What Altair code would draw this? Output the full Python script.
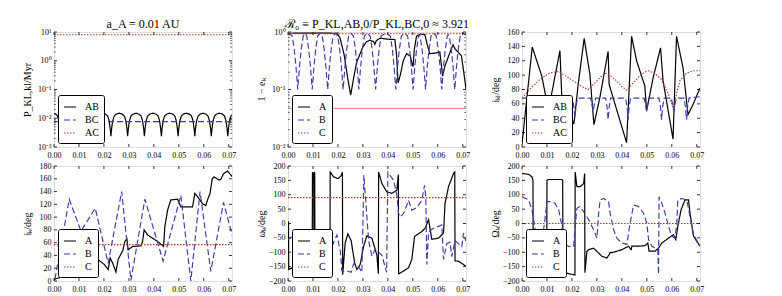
import altair as alt
import pandas as pd

FONT = "Liberation Serif"
W, H = 178, 115
XDOM = [0, 0.0713]
T_TICKS = [0.00, 0.01, 0.02, 0.03, 0.04, 0.05, 0.06, 0.07]
BLACK, BLUE, RED = "#000000", "#3a3aaa", "#b03a2e"

# ---------------- panel 1 : P_KL,kl / Myr (log) ----------------
P1_LABELS = ["AB", "BC", "AC"]
P1_AB = [(0.0000, 0.0145),
         (0.0007, 0.014), (0.0014, 0.012), (0.0020, 0.008), (0.0024, 0.0045), (0.0027, 0.0024), (0.0030, 0.0045), (0.0034, 0.008), (0.0040, 0.012), (0.0049, 0.014), (0.0060, 0.015),
         (0.0072, 0.014), (0.0081, 0.012), (0.0087, 0.008), (0.0091, 0.0045), (0.0094, 0.0024), (0.0097, 0.0045), (0.0101, 0.008), (0.0107, 0.012), (0.0116, 0.014), (0.0127, 0.015),
         (0.0139, 0.014), (0.0148, 0.012), (0.0154, 0.008), (0.0158, 0.0045), (0.0161, 0.0024), (0.0164, 0.0045), (0.0168, 0.008), (0.0174, 0.012), (0.0183, 0.014), (0.0194, 0.015),
         (0.0206, 0.014), (0.0215, 0.012), (0.0221, 0.008), (0.0225, 0.0045), (0.0228, 0.0024), (0.0231, 0.0045), (0.0235, 0.008), (0.0241, 0.012), (0.0250, 0.014), (0.0261, 0.015),
         (0.0273, 0.014), (0.0282, 0.012), (0.0288, 0.008), (0.0292, 0.0045), (0.0295, 0.0024), (0.0298, 0.0045), (0.0302, 0.008), (0.0308, 0.012), (0.0317, 0.014), (0.0328, 0.015),
         (0.0340, 0.014), (0.0349, 0.012), (0.0355, 0.008), (0.0359, 0.0045), (0.0362, 0.0024), (0.0365, 0.0045), (0.0369, 0.008), (0.0375, 0.012), (0.0384, 0.014), (0.0396, 0.015),
         (0.0408, 0.014), (0.0417, 0.012), (0.0423, 0.008), (0.0427, 0.0045), (0.0430, 0.0024), (0.0433, 0.0045), (0.0437, 0.008), (0.0443, 0.012), (0.0452, 0.014), (0.0463, 0.015),
         (0.0475, 0.014), (0.0484, 0.012), (0.0490, 0.008), (0.0494, 0.0045), (0.0497, 0.0024), (0.0500, 0.0045), (0.0504, 0.008), (0.0510, 0.012), (0.0519, 0.014), (0.0530, 0.015),
         (0.0542, 0.014), (0.0551, 0.012), (0.0557, 0.008), (0.0561, 0.0045), (0.0564, 0.0024), (0.0567, 0.0045), (0.0571, 0.008), (0.0577, 0.012), (0.0586, 0.014), (0.0597, 0.015),
         (0.0608, 0.014), (0.0617, 0.012), (0.0623, 0.008), (0.0627, 0.0045), (0.0630, 0.0024), (0.0633, 0.0045), (0.0637, 0.008), (0.0643, 0.012), (0.0652, 0.014), (0.0663, 0.015),
         (0.0674, 0.014), (0.0683, 0.012), (0.0689, 0.008), (0.0693, 0.0045), (0.0696, 0.0024), (0.0699, 0.0045), (0.0703, 0.008), (0.0709, 0.012), (0.0715, 0.0135)]
P1_BC = [(0.0000, 0.0076), (0.0713, 0.0076)]
P1_AC = [(0.0000, 8.0), (0.0713, 8.0)]

# ---------------- panel 2 : 1 - e_k (log) ----------------
P2_LABELS = ["A", "B", "C"]
P2_A = [(0.0000, 0.95), (0.0100, 0.96), (0.0195, 0.95), (0.0208, 0.80), (0.0225, 0.40), (0.0240, 0.15), (0.0251, 0.08),
        (0.0262, 0.15), (0.0275, 0.30), (0.0288, 0.41), (0.0300, 0.55), (0.0315, 0.68), (0.0328, 0.72), (0.0343, 0.68),
        (0.0348, 0.61), (0.0353, 0.70), (0.0368, 0.78), (0.0400, 0.75), (0.0428, 0.74), (0.0435, 0.40), (0.0441, 0.13),
        (0.0450, 0.18), (0.0462, 0.32), (0.0475, 0.42), (0.0490, 0.38), (0.0497, 0.28), (0.0501, 0.25), (0.0506, 0.50),
        (0.0515, 0.85), (0.0530, 0.92), (0.0548, 0.90), (0.0558, 0.60), (0.0568, 0.42), (0.0590, 0.43), (0.0608, 0.45),
        (0.0613, 0.30), (0.0619, 0.17), (0.0628, 0.25), (0.0645, 0.40), (0.0661, 0.60), (0.0670, 0.50), (0.0681, 0.45),
        (0.0695, 0.38), (0.0708, 0.15), (0.0713, 0.10)]
P2_B = [(0.0000, 0.95), (0.0017, 0.85), (0.0025, 0.5), (0.0032, 0.25), (0.0039, 0.1), (0.0046, 0.25), (0.0053, 0.5), (0.0061, 0.85), (0.0068, 0.95),
        (0.0075, 0.85), (0.0083, 0.5), (0.0090, 0.25), (0.0097, 0.1), (0.0104, 0.25), (0.0111, 0.5), (0.0119, 0.85), (0.0128, 0.95),
        (0.0137, 0.85), (0.0145, 0.5), (0.0152, 0.25), (0.0159, 0.1), (0.0166, 0.25), (0.0173, 0.5), (0.0181, 0.85), (0.0190, 0.95),
        (0.0199, 0.85), (0.0207, 0.5), (0.0214, 0.25), (0.0221, 0.1), (0.0228, 0.25), (0.0235, 0.5), (0.0243, 0.85), (0.0252, 0.95),
        (0.0262, 0.85), (0.0270, 0.5), (0.0277, 0.25), (0.0284, 0.1), (0.0291, 0.25), (0.0298, 0.5), (0.0306, 0.85), (0.0317, 0.95),
        (0.0329, 0.85), (0.0337, 0.5), (0.0344, 0.25), (0.0351, 0.1), (0.0358, 0.25), (0.0365, 0.5), (0.0373, 0.85), (0.0391, 0.95),
        (0.0410, 0.85), (0.0418, 0.5), (0.0425, 0.25), (0.0432, 0.1), (0.0439, 0.25), (0.0446, 0.5), (0.0454, 0.85), (0.0466, 0.95),
        (0.0479, 0.85), (0.0487, 0.5), (0.0494, 0.25), (0.0501, 0.1), (0.0508, 0.25), (0.0515, 0.5), (0.0523, 0.85), (0.0526, 0.9),
        (0.0529, 0.85), (0.0537, 0.5), (0.0544, 0.25), (0.0551, 0.1), (0.0558, 0.25), (0.0565, 0.5), (0.0573, 0.85), (0.0584, 0.95),
        (0.0594, 0.85), (0.0602, 0.5), (0.0609, 0.25), (0.0616, 0.1), (0.0623, 0.25), (0.0630, 0.5), (0.0638, 0.85), (0.0642, 0.9),
        (0.0646, 0.85), (0.0654, 0.5), (0.0661, 0.25), (0.0668, 0.1), (0.0675, 0.25), (0.0682, 0.5), (0.0690, 0.85), (0.0700, 0.95), (0.0713, 0.9)]
P2_C = [(0.0000, 0.93), (0.0713, 0.93)]
P2_REF = [0.047]

# ---------------- panel 3 : i_kl / deg ----------------
P3_AB = [(0.0000, 4), (0.0041, 139), (0.0079, 99), (0.0099, 64), (0.0112, 62), (0.0152, 134), (0.0159, 73),
         (0.0208, 32), (0.0225, 87), (0.0249, 151), (0.0272, 101), (0.0288, 31), (0.0312, 69), (0.0345, 133),
         (0.0349, 87), (0.0419, 6), (0.0439, 154), (0.0459, 120), (0.0492, 85), (0.0499, 50), (0.0525, 96),
         (0.0555, 138), (0.0565, 92), (0.0605, 11), (0.0619, 154), (0.0645, 110), (0.0665, 45), (0.0685, 59), (0.0713, 82)]
P3_BC = [(0.0000, 68), (0.0020, 68), (0.0026, 55), (0.0030, 42), (0.0034, 55), (0.0040, 68),
         (0.0080, 68), (0.0086, 55), (0.0090, 42), (0.0094, 55), (0.0100, 68),
         (0.0140, 68), (0.0146, 55), (0.0150, 42), (0.0154, 55), (0.0160, 68),
         (0.0202, 68), (0.0208, 55), (0.0212, 41), (0.0216, 55), (0.0222, 68),
         (0.0275, 68), (0.0281, 58), (0.0285, 50), (0.0289, 58), (0.0295, 68),
         (0.0335, 68), (0.0341, 55), (0.0345, 38), (0.0349, 55), (0.0355, 68),
         (0.0415, 68), (0.0421, 55), (0.0425, 38), (0.0429, 55), (0.0435, 68),
         (0.0489, 68), (0.0495, 58), (0.0499, 50), (0.0503, 58), (0.0509, 68),
         (0.0549, 68), (0.0555, 55), (0.0559, 38), (0.0563, 55), (0.0569, 68),
         (0.0598, 68), (0.0604, 58), (0.0608, 50), (0.0612, 58), (0.0618, 68),
         (0.0649, 68), (0.0655, 55), (0.0659, 38), (0.0663, 55), (0.0669, 68), (0.0713, 70)]
P3_AC = [(0.0000, 68), (0.0030, 80), (0.0072, 94), (0.0110, 103), (0.0145, 105), (0.0175, 99), (0.0205, 92),
         (0.0240, 84), (0.0265, 80), (0.0300, 92), (0.0332, 103), (0.0355, 99), (0.0379, 92), (0.0400, 84),
         (0.0419, 79), (0.0440, 87), (0.0459, 94), (0.0480, 102), (0.0505, 106), (0.0530, 103), (0.0559, 94),
         (0.0585, 75), (0.0605, 54), (0.0620, 75), (0.0632, 92), (0.0660, 103), (0.0685, 106), (0.0713, 106)]

# ---------------- panel 4 : i_k / deg ----------------
P4_A = [(0.0000, 2.6), (0.0021, 5), (0.0050, 15), (0.0090, 25), (0.0130, 30), (0.0175, 34), (0.0201, 26), (0.0217, 18),
        (0.0225, 36), (0.0235, 28), (0.0248, 14), (0.0257, 34), (0.0275, 47), (0.0284, 62), (0.0292, 66), (0.0297, 49),
        (0.0315, 54), (0.0348, 55), (0.0355, 62), (0.0361, 80), (0.0375, 72), (0.0415, 62), (0.0439, 54), (0.0444, 85),
        (0.0455, 111), (0.0468, 127), (0.0495, 128), (0.0508, 116), (0.0555, 116), (0.0564, 137), (0.0575, 132),
        (0.0595, 121), (0.0608, 118), (0.0615, 127), (0.0625, 137), (0.0634, 160), (0.0641, 163), (0.0661, 158),
        (0.0668, 159), (0.0679, 168), (0.0695, 172), (0.0715, 163)]
P4_B = [(0.0004, 3), (0.0061, 128), (0.0108, 78), (0.0165, 114), (0.0217, 28), (0.0271, 140), (0.0308, 1),
        (0.0364, 128), (0.0437, 31), (0.0508, 134), (0.0548, 0), (0.0585, 140), (0.0628, 15), (0.0679, 123), (0.0715, 70)]
P4_C = [(0.0000, 57), (0.0713, 57)]

# ---------------- panel 5 : omega_k / deg ----------------
P5_A = [(0.0000, 8), (0.0002, 5), (0.0003, -160), (0.0015, -155), (0.0029, -150), (0.0040, -140), (0.0070, -120),
        (0.0097, -120), (0.0098, 178), (0.0103, 170), (0.0104, -179), (0.0105, 179), (0.0107, 175), (0.0108, -178),
        (0.0120, -150), (0.0150, -165), (0.0168, -178), (0.0169, 179), (0.0183, 162), (0.0200, 156), (0.0212, 165),
        (0.0218, 178), (0.0219, -178), (0.0229, -68), (0.0240, -36), (0.0253, -60), (0.0267, -137), (0.0276, -160),
        (0.0289, -143), (0.0303, -79), (0.0316, -43), (0.0336, -51), (0.0356, -110), (0.0362, -175), (0.0363, 179),
        (0.0376, 139), (0.0396, 110), (0.0416, 105), (0.0436, 116), (0.0442, 170), (0.0443, -175), (0.0456, -169),
        (0.0483, -154), (0.0496, -125), (0.0507, -45), (0.0536, -28), (0.0549, -16), (0.0563, 13), (0.0576, -55),
        (0.0603, -51), (0.0623, -33), (0.0629, 70), (0.0643, 128), (0.0663, 174), (0.0668, 179), (0.0669, -130),
        (0.0683, -131), (0.0712, -148)]
P5_B = [(0.0000, -55), (0.0030, -40), (0.0060, -45), (0.0096, -22), (0.0110, -80), (0.0130, -110), (0.0150, -114),
        (0.0169, -100), (0.0183, -65), (0.0196, -40), (0.0210, -100), (0.0216, -165), (0.0236, -165), (0.0253, -170),
        (0.0263, -140), (0.0283, -150), (0.0296, -170), (0.0304, 168), (0.0313, 60), (0.0323, -60), (0.0336, -114),
        (0.0349, -90), (0.0376, -110), (0.0395, -170), (0.0400, 178), (0.0423, 150), (0.0436, 100), (0.0443, 35),
        (0.0449, 23), (0.0463, 35), (0.0476, 64), (0.0483, 81), (0.0496, 46), (0.0509, 52), (0.0523, 64), (0.0536, 81),
        (0.0547, 133), (0.0552, 90), (0.0556, -143), (0.0563, -30), (0.0576, -20), (0.0589, -14), (0.0603, -10),
        (0.0616, -5), (0.0623, -125), (0.0636, -70), (0.0649, -65), (0.0656, -115), (0.0669, -60), (0.0683, -70),
        (0.0696, -80), (0.0703, -33), (0.0712, -60)]
P5_C = [(0.0000, 90), (0.0713, 90)]

# ---------------- panel 6 : Omega_k / deg ----------------
P6_A = [(0.0000, 174), (0.0027, 171), (0.0040, 162), (0.0044, 150), (0.0045, -171), (0.0070, -175), (0.0099, -178),
        (0.0100, 150), (0.0105, 153), (0.0160, 153), (0.0163, 150), (0.0164, -170), (0.0190, -175), (0.0212, -179),
        (0.0213, 179), (0.0220, 128), (0.0233, 128), (0.0247, 139), (0.0251, 174), (0.0252, -171), (0.0260, -97),
        (0.0267, -91), (0.0287, -86), (0.0300, -97), (0.0320, -114), (0.0340, -120), (0.0349, -108), (0.0353, -102),
        (0.0367, -100), (0.0400, -91), (0.0427, -79), (0.0437, -91), (0.0440, -79), (0.0467, -79), (0.0493, -77),
        (0.0504, -68), (0.0509, -96), (0.0533, -96), (0.0547, -85), (0.0560, -68), (0.0587, -51), (0.0607, -39),
        (0.0616, -56), (0.0624, -10), (0.0637, 47), (0.0653, 82), (0.0667, 82), (0.0673, 36), (0.0687, -44),
        (0.0700, -62), (0.0713, -79)]
P6_B = [(0.0000, 93), (0.0013, 88), (0.0027, 82), (0.0040, 47), (0.0053, -20), (0.0060, -60), (0.0075, -80),
        (0.0090, 0), (0.0100, 76), (0.0120, 76), (0.0133, 70), (0.0147, 47), (0.0160, -10), (0.0167, -68),
        (0.0187, -80), (0.0207, -80), (0.0213, -10), (0.0220, 53), (0.0233, 59), (0.0247, 41), (0.0267, 13),
        (0.0287, -22), (0.0300, -51), (0.0307, 36), (0.0313, 82), (0.0327, 87), (0.0347, 76), (0.0353, 36),
        (0.0367, -22), (0.0380, -51), (0.0400, -68), (0.0420, -73), (0.0433, 1), (0.0447, 64), (0.0467, 59),
        (0.0487, 36), (0.0500, 1), (0.0507, -56), (0.0520, -79), (0.0533, -85), (0.0544, -91), (0.0547, -177),
        (0.0549, 93), (0.0560, 70), (0.0573, 36), (0.0587, -10), (0.0600, -45), (0.0613, -51), (0.0620, 1),
        (0.0624, 82), (0.0640, 87), (0.0660, 82), (0.0673, 24), (0.0687, -39), (0.0713, -79)]
P6_C = [(0.0000, 0), (0.0713, 0)]

LOG_TICKS_1 = [0.001, 0.01, 0.1, 1, 10]
LOG_TICKS_2 = [0.01, 0.1, 1]
MINOR_1 = [m * d for d in (0.001, 0.01, 0.1, 1) for m in range(2, 10)]
MINOR_2 = [m * d for d in (0.01, 0.1) for m in range(2, 10)]
LIN_TICKS_3 = [0, 20, 40, 60, 80, 100, 120, 140, 160]
LIN_TICKS_4 = [0, 20, 40, 60, 80, 100, 120, 140, 160, 180]
ANG_TICKS = [-200, -150, -100, -50, 0, 50, 100, 150, 200]

LOG_EXPR = ("datum.value >= 5 ? '10¹' : datum.value >= 0.5 ? '10⁰' : datum.value >= 0.05 ? '10⁻¹' : "
            "datum.value >= 0.005 ? '10⁻²' : '10⁻³'")


def long_df(series):
    rows = []
    for lab, pts in series:
        for i, (t, v) in enumerate(pts):
            rows.append({"t": t, "v": v, "s": lab, "i": i})
    return pd.DataFrame(rows)


def panel(series, labels, ydom, ytype, yticks, ytitle, title=None, log=False, refs=None, minor=None):
    df = long_df(series)
    yscale = alt.Scale(type=ytype, domain=ydom, nice=False, zero=False)
    xscale = alt.Scale(domain=XDOM, nice=False, zero=False)
    yaxis_kw = dict(values=yticks, title=ytitle, ticks=False, grid=False, domain=False,
                    labelFont=FONT, labelFontSize=8, labelPadding=3, labelColor="black",
                    labelOverlap=False, labelFlush=False, labelBound=False,
                    minExtent=16, maxExtent=16, titlePadding=6, titleFont=FONT,
                    titleFontSize=10, titleFontWeight="normal", titleColor="black")
    if log:
        yaxis_kw["labelExpr"] = LOG_EXPR
    xaxis = alt.Axis(values=T_TICKS, format=".2f", title=None, ticks=False, grid=False,
                     domain=False, labelFont=FONT, labelFontSize=8, labelPadding=4.5,
                     labelOverlap=False, labelFlush=False, labelBound=False, labelColor="black")
    yaxis = alt.Axis(**yaxis_kw)
    x = alt.X("t:Q", scale=xscale, axis=xaxis)
    y = alt.Y("v:Q", scale=yscale, axis=yaxis)
    leg = alt.Legend(title=None, orient="bottom-left", offset=4, fillColor="white",
                     strokeColor="black", padding=5, cornerRadius=2, symbolType="stroke",
                     symbolSize=144, symbolStrokeWidth=1.3, labelFont=FONT, labelFontSize=10,
                     rowPadding=1, labelOffset=8, labelColor="black")
    color = alt.Color("s:N", scale=alt.Scale(domain=labels, range=[BLACK, BLUE, RED]), legend=leg)
    dash = alt.StrokeDash("s:N", scale=alt.Scale(domain=labels, range=[[1, 0], [6, 3], [1.5, 1.5]]),
                          legend=leg)
    width = alt.StrokeWidth("s:N", scale=alt.Scale(domain=labels, range=[1.2, 1.1, 1.5]), legend=None)
    lines = alt.Chart(df).mark_line(clip=True).encode(x=x, y=y, color=color, strokeDash=dash,
                                                      strokeWidth=width, order="i:Q")
    layers = [lines]
    if refs is not None:
        layers.append(alt.Chart(pd.DataFrame({"v": refs})).mark_rule(color="#e06a6a", strokeWidth=0.9)
                      .encode(y=alt.Y("v:Q", scale=yscale, axis=yaxis)))
    xt = pd.DataFrame({"t": T_TICKS})
    yt = pd.DataFrame({"v": yticks})
    layers.append(alt.Chart(xt).mark_rule(color="black", strokeWidth=0.8)
                  .encode(x=alt.X("t:Q", scale=xscale, axis=xaxis), y=alt.value(H), y2=alt.value(H - 3)))
    layers.append(alt.Chart(xt).mark_rule(color="black", strokeWidth=0.8)
                  .encode(x=alt.X("t:Q", scale=xscale, axis=xaxis), y=alt.value(0), y2=alt.value(3)))
    layers.append(alt.Chart(yt).mark_rule(color="black", strokeWidth=0.8)
                  .encode(y=alt.Y("v:Q", scale=yscale, axis=yaxis), x=alt.value(0), x2=alt.value(3)))
    layers.append(alt.Chart(yt).mark_rule(color="black", strokeWidth=0.8)
                  .encode(y=alt.Y("v:Q", scale=yscale, axis=yaxis), x=alt.value(W), x2=alt.value(W - 3)))
    if minor is not None:
        mt = pd.DataFrame({"v": minor})
        layers.append(alt.Chart(mt).mark_rule(color="black", strokeWidth=0.6)
                      .encode(y=alt.Y("v:Q", scale=yscale, axis=yaxis), x=alt.value(0), x2=alt.value(1.8)))
        layers.append(alt.Chart(mt).mark_rule(color="black", strokeWidth=0.6)
                      .encode(y=alt.Y("v:Q", scale=yscale, axis=yaxis), x=alt.value(W), x2=alt.value(W - 1.8)))
    ch = alt.layer(*layers).properties(width=W, height=H)
    if title:
        ch = ch.properties(title=alt.TitleParams(title, font=FONT, fontSize=12, fontWeight="normal",
                                                 offset=-3, color="black"))
    return ch


p1 = panel([("AB", P1_AB), ("BC", P1_BC), ("AC", P1_AC)], P1_LABELS, [0.001, 10], "log",
           LOG_TICKS_1, "P_KL,kl/Myr", title="a_A = 0.01 AU", log=True, minor=MINOR_1)
p2 = panel([("A", P2_A), ("B", P2_B), ("C", P2_C)], P2_LABELS, [0.01, 1], "log",
           LOG_TICKS_2, "1 − eₖ", title="ℛ₀ ≡ P_KL,AB,0/P_KL,BC,0 ≈ 3.921", log=True, refs=P2_REF,
           minor=MINOR_2)
p3 = panel([("AB", P3_AB), ("BC", P3_BC), ("AC", P3_AC)], P1_LABELS, [0, 160], "linear",
           LIN_TICKS_3, "iₖₗ/deg")
p4 = panel([("A", P4_A), ("B", P4_B), ("C", P4_C)], P2_LABELS, [0, 180], "linear",
           LIN_TICKS_4, "iₖ/deg")
p5 = panel([("A", P5_A), ("B", P5_B), ("C", P5_C)], P2_LABELS, [-200, 200], "linear",
           ANG_TICKS, "ωₖ/deg")
p6 = panel([("A", P6_A), ("B", P6_B), ("C", P6_C)], P2_LABELS, [-200, 200], "linear",
           ANG_TICKS, "Ωₖ/deg")

chart = alt.concat(p1, p2, p3, p4, p5, p6, columns=3,
                   spacing=alt.RowColnumber(row=19, column=56), bounds="flush").resolve_scale(
    x="independent", y="independent", color="independent", strokeDash="independent",
    strokeWidth="independent").resolve_legend(color="independent", strokeDash="independent").properties(
    padding={"left": 13, "top": 9, "right": 0, "bottom": 0}
).configure_view(stroke="black", strokeWidth=1).configure_axis(
    labelOverlap=False, labelFlush=False
).configure(background="white")

chart.save("out.html", embed_options={"renderer": "svg", "actions": False})
